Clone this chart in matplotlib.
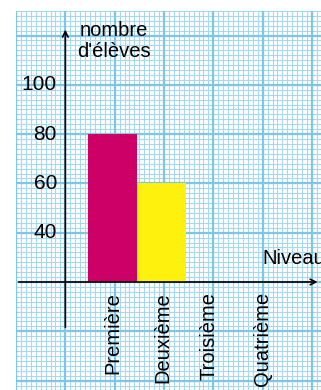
import numpy as np
import matplotlib
matplotlib.use('Agg')
import matplotlib.pyplot as plt
from matplotlib.collections import LineCollection

plt.rcParams['font.family'] = ['Liberation Sans', 'DejaVu Sans']

# data
niveaux = ['Première', 'Deuxième', 'Troisième', 'Quatrième']
eleves = [80, 60]
couleurs = ['#cc0066', '#fff10e']
y_ticks = [40, 60, 80, 100]
base = 20  # the horizontal axis sits at 20 eleves

fig = plt.figure(figsize=(3.21, 3.90), dpi=100)
ax = fig.add_axes([16 / 321, 0, 1 - 16 / 321, 379 / 390])

# 1 major square = 49.3 px, = 1 category in x and 20 eleves in y
xmin, xmax = -1.0, (321 - 65.5) / 49.3
ymin, ymax = base - (390 - 282) / 49.3 * 20, base + (282 - 11) / 49.3 * 20
ax.set_xlim(xmin, xmax)
ax.set_ylim(ymin, ymax)
ax.axis('off')

# graph paper
minor_col = '#a6d9f0'
major_col = '#7fc6e6'
xs = np.arange(-1.0, xmax + 0.01, 0.1)
ys = np.arange(-24, ymax + 0.1, 2)
minor = [[(x, ymin), (x, ymax)] for x in xs] + [[(xmin, y), (xmax, y)] for y in ys]
ax.add_collection(LineCollection(minor, colors=minor_col, linewidths=0.8, zorder=0))
xs_maj = np.arange(-1, xmax + 0.01, 1)
ys_maj = np.arange(-20, ymax, 20)
major = [[(x, ymin), (x, ymax)] for x in xs_maj] + [[(xmin, y), (xmax, y)] for y in ys_maj]
ax.add_collection(LineCollection(major, colors=major_col, linewidths=1.6, zorder=0.5))

# bars
pos = np.arange(1, len(niveaux) + 1) - 0.05
ax.bar(pos[:len(eleves)], np.array(eleves) - base, bottom=base, width=1.0,
       color=couleurs, zorder=2)

# axes with arrows
ax.annotate('', xy=(0, base + 103.5), xytext=(0, base - 19.5),
            arrowprops=dict(arrowstyle='->', lw=1.2, color='black', mutation_scale=10), zorder=3)
ax.annotate('', xy=(5.17, base), xytext=(-1.0, base),
            arrowprops=dict(arrowstyle='->', lw=1.2, color='black', mutation_scale=10), zorder=3)

# labels
fs = 14.5
for v in y_ticks:
    ax.text(-0.17, v, str(v), ha='right', va='center', fontsize=15, zorder=4)
label_x = [0.96, 1.98, 2.91, 3.99]
for x, lab in zip(label_x, niveaux):
    ax.text(x, base - 4.0, lab, rotation=90, ha='center', va='top', fontsize=fs, zorder=4)
ax.text(0.99, base + 97.8, "nombre\nd'élèves", ha='center', va='center', fontsize=fs,
        linespacing=1.1, zorder=4)
ax.text(3.99, base + 9.7, 'Niveau', ha='left', va='center', fontsize=fs, zorder=4)

fig.savefig('out.png', dpi=100)
